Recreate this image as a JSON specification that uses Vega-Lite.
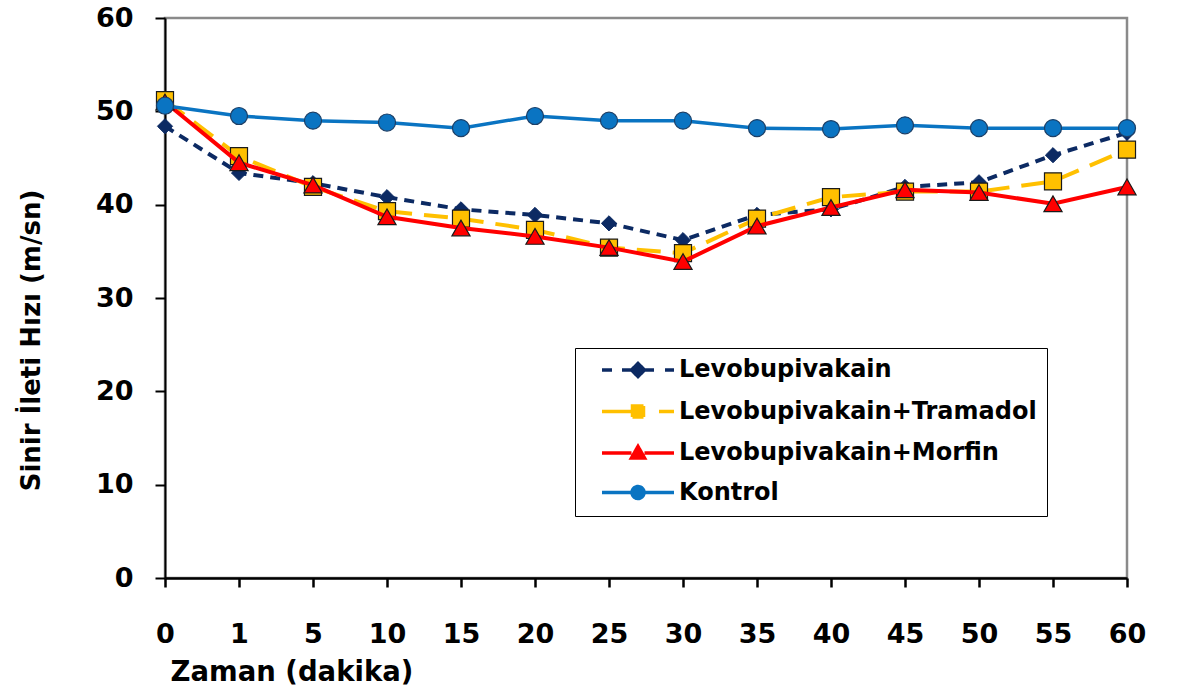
{
  "$schema": "https://vega.github.io/schema/vega-lite/v6.json",
  "width": 962,
  "height": 560,
  "autosize": "none",
  "padding": {"left": 165, "top": 18, "right": 50, "bottom": 119},
  "background": "#ffffff",
  "config": {
    "view": {"stroke": "#8a8a8a", "strokeWidth": 2.5},
    "font": "DejaVu Sans"
  },
  "data": {
    "values": [
      {"zaman": "0", "grup": "Levobupivakain", "hiz": 48.4},
      {"zaman": "1", "grup": "Levobupivakain", "hiz": 43.4},
      {"zaman": "5", "grup": "Levobupivakain", "hiz": 42.3},
      {"zaman": "10", "grup": "Levobupivakain", "hiz": 40.8},
      {"zaman": "15", "grup": "Levobupivakain", "hiz": 39.5},
      {"zaman": "20", "grup": "Levobupivakain", "hiz": 38.9},
      {"zaman": "25", "grup": "Levobupivakain", "hiz": 38.0},
      {"zaman": "30", "grup": "Levobupivakain", "hiz": 36.2},
      {"zaman": "35", "grup": "Levobupivakain", "hiz": 38.9},
      {"zaman": "40", "grup": "Levobupivakain", "hiz": 39.5},
      {"zaman": "45", "grup": "Levobupivakain", "hiz": 41.9},
      {"zaman": "50", "grup": "Levobupivakain", "hiz": 42.4},
      {"zaman": "55", "grup": "Levobupivakain", "hiz": 45.3},
      {"zaman": "60", "grup": "Levobupivakain", "hiz": 47.7},
      {"zaman": "0", "grup": "Levobupivakain+Tramadol", "hiz": 51.2},
      {"zaman": "1", "grup": "Levobupivakain+Tramadol", "hiz": 45.2},
      {"zaman": "5", "grup": "Levobupivakain+Tramadol", "hiz": 41.9},
      {"zaman": "10", "grup": "Levobupivakain+Tramadol", "hiz": 39.3},
      {"zaman": "15", "grup": "Levobupivakain+Tramadol", "hiz": 38.5},
      {"zaman": "20", "grup": "Levobupivakain+Tramadol", "hiz": 37.3},
      {"zaman": "25", "grup": "Levobupivakain+Tramadol", "hiz": 35.4},
      {"zaman": "30", "grup": "Levobupivakain+Tramadol", "hiz": 34.8},
      {"zaman": "35", "grup": "Levobupivakain+Tramadol", "hiz": 38.5},
      {"zaman": "40", "grup": "Levobupivakain+Tramadol", "hiz": 40.8},
      {"zaman": "45", "grup": "Levobupivakain+Tramadol", "hiz": 41.4},
      {"zaman": "50", "grup": "Levobupivakain+Tramadol", "hiz": 41.4},
      {"zaman": "55", "grup": "Levobupivakain+Tramadol", "hiz": 42.5},
      {"zaman": "60", "grup": "Levobupivakain+Tramadol", "hiz": 45.9},
      {"zaman": "0", "grup": "Levobupivakain+Morfin", "hiz": 51.0},
      {"zaman": "1", "grup": "Levobupivakain+Morfin", "hiz": 44.5},
      {"zaman": "5", "grup": "Levobupivakain+Morfin", "hiz": 42.1},
      {"zaman": "10", "grup": "Levobupivakain+Morfin", "hiz": 38.7},
      {"zaman": "15", "grup": "Levobupivakain+Morfin", "hiz": 37.5},
      {"zaman": "20", "grup": "Levobupivakain+Morfin", "hiz": 36.6},
      {"zaman": "25", "grup": "Levobupivakain+Morfin", "hiz": 35.4},
      {"zaman": "30", "grup": "Levobupivakain+Morfin", "hiz": 33.9},
      {"zaman": "35", "grup": "Levobupivakain+Morfin", "hiz": 37.7},
      {"zaman": "40", "grup": "Levobupivakain+Morfin", "hiz": 39.7},
      {"zaman": "45", "grup": "Levobupivakain+Morfin", "hiz": 41.6},
      {"zaman": "50", "grup": "Levobupivakain+Morfin", "hiz": 41.3},
      {"zaman": "55", "grup": "Levobupivakain+Morfin", "hiz": 40.1},
      {"zaman": "60", "grup": "Levobupivakain+Morfin", "hiz": 41.9},
      {"zaman": "0", "grup": "Kontrol", "hiz": 50.6},
      {"zaman": "1", "grup": "Kontrol", "hiz": 49.5},
      {"zaman": "5", "grup": "Kontrol", "hiz": 49.0},
      {"zaman": "10", "grup": "Kontrol", "hiz": 48.8},
      {"zaman": "15", "grup": "Kontrol", "hiz": 48.2},
      {"zaman": "20", "grup": "Kontrol", "hiz": 49.5},
      {"zaman": "25", "grup": "Kontrol", "hiz": 49.0},
      {"zaman": "30", "grup": "Kontrol", "hiz": 49.0},
      {"zaman": "35", "grup": "Kontrol", "hiz": 48.2},
      {"zaman": "40", "grup": "Kontrol", "hiz": 48.1},
      {"zaman": "45", "grup": "Kontrol", "hiz": 48.5},
      {"zaman": "50", "grup": "Kontrol", "hiz": 48.2},
      {"zaman": "55", "grup": "Kontrol", "hiz": 48.2},
      {"zaman": "60", "grup": "Kontrol", "hiz": 48.2}
    ]
  },
  "encoding": {
    "x": {
      "field": "zaman",
      "type": "ordinal",
      "sort": ["0", "1", "5", "10", "15", "20", "25", "30", "35", "40", "45", "50", "55", "60"],
      "scale": {"type": "point", "padding": 0},
      "axis": {
        "title": "Zaman (dakika)",
        "titleFont": "DejaVu Sans",
        "titleFontSize": 27.5,
        "titleFontWeight": "bold",
        "titleColor": "#000000",
        "titleAlign": "left",
        "titleAnchor": "start",
        "titleBaseline": "alphabetic",
        "titleX": 5,
        "titleY": 102,
        "labelAngle": 0,
        "labelFont": "DejaVu Sans",
        "labelFontSize": 27,
        "labelFontWeight": "bold",
        "labelColor": "#000000",
        "labelPadding": 34,
        "domainColor": "#000000",
        "domainWidth": 2.5,
        "tickColor": "#000000",
        "tickWidth": 2.5,
        "tickSize": 9,
        "grid": false
      }
    },
    "y": {
      "field": "hiz",
      "type": "quantitative",
      "scale": {"domain": [0, 60], "nice": false},
      "axis": {
        "values": [0, 10, 20, 30, 40, 50, 60],
        "title": "Sinir İleti Hızı (m/sn)",
        "titleFont": "DejaVu Sans",
        "titleFontSize": 26,
        "titleFontWeight": "bold",
        "titleColor": "#000000",
        "titleX": -121,
        "titleY": 322,
        "labelFont": "DejaVu Sans",
        "labelFontSize": 27,
        "labelFontWeight": "bold",
        "labelColor": "#000000",
        "labelPadding": 22,
        "domainColor": "#000000",
        "domainWidth": 2,
        "tickColor": "#000000",
        "tickWidth": 2,
        "tickSize": 10,
        "grid": false
      }
    }
  },
  "layer": [
    {
      "transform": [{"filter": "datum.grup === 'Levobupivakain'"}],
      "mark": {"type": "line", "strokeWidth": 4, "strokeDash": [10, 7]},
      "encoding": {
        "color": {
          "field": "grup",
          "type": "nominal",
          "scale": {
            "domain": ["Levobupivakain", "Levobupivakain+Tramadol", "Levobupivakain+Morfin", "Kontrol"],
            "range": ["#0c2a63", "#FFC000", "#FF0000", "#0A74C2"]
          },
          "legend": {
            "orient": "none",
            "legendX": 410,
            "legendY": 330,
            "title": null,
            "padding": 10,
            "strokeColor": "#000000",
            "fillColor": "#ffffff",
            "labelFont": "DejaVu Sans",
            "labelFontSize": 24,
            "labelFontWeight": "bold",
            "labelColor": "#000000",
            "labelOffset": 70,
            "labelLimit": 600,
            "symbolSize": 400,
            "symbolStrokeWidth": 3.5,
            "rowPadding": 14.5,
            "encode": {
              "symbols": {
                "update": {
                  "shape": {"signal": "datum.value === 'Levobupivakain' ? 'M0.5,0H1.5M2.5,0H3.4M4.8,0H5.7M6.8,0H7.7M4.1,-0.65L4.75,0L4.1,0.65L3.45,0Z' : datum.value === 'Levobupivakain+Tramadol' ? 'M0.5,0H3.5M6.2,0H7.7M3.55,-0.55H4.65V0.55H3.55Z' : datum.value === 'Levobupivakain+Morfin' ? 'M0.5,0H3.45M4.75,0H7.7M4.1,-0.65L4.75,0.5H3.45Z' : 'M0.5,0H3.45M4.75,0H7.7M3.5,0A0.6,0.6 0 1,0 4.7,0A0.6,0.6 0 1,0 3.5,0Z'"},
                  "fill": {"signal": "scale('color', datum.value)"},
                  "stroke": {"signal": "scale('color', datum.value)"},
                  "strokeDash": {"value": [1, 0]},
                  "opacity": {"value": 1}
                }
              }
            }
          }
        }
      }
    },
    {
      "transform": [{"filter": "datum.grup === 'Levobupivakain'"}],
      "mark": {"type": "point", "shape": "diamond", "filled": true, "size": 230, "fill": "#0c2a63", "stroke": "#0c2a63", "strokeWidth": 1, "opacity": 1}
    },
    {
      "transform": [{"filter": "datum.grup === 'Levobupivakain+Tramadol'"}],
      "mark": {"type": "line", "strokeWidth": 4, "strokeDash": [24, 12]},
      "encoding": {"color": {"field": "grup", "type": "nominal"}}
    },
    {
      "transform": [{"filter": "datum.grup === 'Levobupivakain+Tramadol'"}],
      "mark": {"type": "point", "shape": "square", "filled": true, "size": 290, "fill": "#FFC000", "stroke": "#1a1a1a", "strokeWidth": 1.2, "opacity": 1}
    },
    {
      "transform": [{"filter": "datum.grup === 'Levobupivakain+Morfin'"}],
      "mark": {"type": "line", "strokeWidth": 4},
      "encoding": {"color": {"field": "grup", "type": "nominal"}}
    },
    {
      "transform": [{"filter": "datum.grup === 'Levobupivakain+Morfin'"}],
      "mark": {"type": "point", "shape": "triangle-up", "filled": true, "size": 330, "fill": "#FF0000", "stroke": "#1a1a1a", "strokeWidth": 1.2, "opacity": 1}
    },
    {
      "transform": [{"filter": "datum.grup === 'Kontrol'"}],
      "mark": {"type": "line", "strokeWidth": 3.5},
      "encoding": {"color": {"field": "grup", "type": "nominal"}}
    },
    {
      "transform": [{"filter": "datum.grup === 'Kontrol'"}],
      "mark": {"type": "point", "shape": "circle", "filled": true, "size": 290, "fill": "#0A74C2", "stroke": "#1d3f66", "strokeWidth": 1.2, "opacity": 1}
    }
  ]
}
